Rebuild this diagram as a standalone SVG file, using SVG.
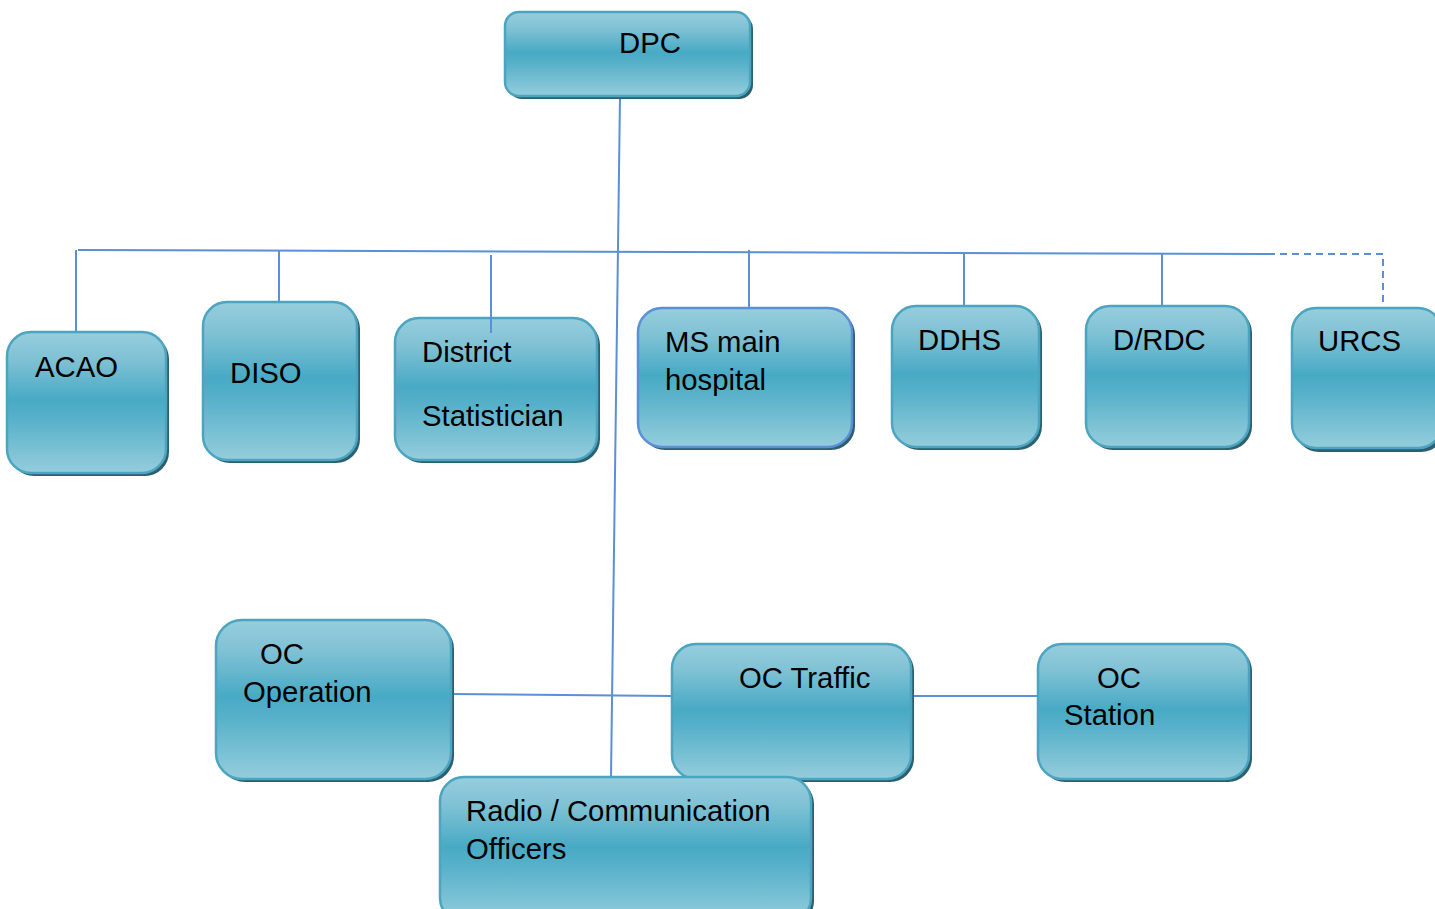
<svg xmlns="http://www.w3.org/2000/svg" width="1435" height="909" viewBox="0 0 1435 909">
<defs>
<linearGradient id="g" x1="0" y1="0" x2="0" y2="1">
<stop offset="0" stop-color="#96cedd"/>
<stop offset="0.2" stop-color="#7fc1d4"/>
<stop offset="0.48" stop-color="#48aac5"/>
<stop offset="0.62" stop-color="#58b1ca"/>
<stop offset="1" stop-color="#95cddc"/>
</linearGradient>
<style>
.sh{fill:#2c5f6f}
.bx{fill:url(#g);stroke:#4ba5c0;stroke-width:2.5}
.ms{stroke:#5b8fd6}
.t{font-family:"Liberation Sans",Arial,sans-serif;font-size:29.3px;fill:#000}
.ln{stroke:#5b8fd6;stroke-width:2;fill:none}
.dash{stroke-dasharray:7,5}
</style>
</defs>
<rect width="1435" height="909" fill="#fff"/>
<g id="connectors">
<path class="ln" d="M620 96 L611 777"/>
<path class="ln" d="M78 250 L1268 254"/>
<path class="ln dash" d="M1268 254 L1383 254 L1383 305"/>
<path class="ln" d="M76 250 L76 332"/>
<path class="ln" d="M279 250 L279 302"/>
<path class="ln" d="M749 250 L749 308"/>
<path class="ln" d="M964 253 L964 306"/>
<path class="ln" d="M1162 254 L1162 306"/>
<path class="ln" d="M451 694 L672 696"/>
<path class="ln" d="M911 696 L1038 696"/>
</g>
<g id="dpc">
<rect class="sh" x="508" y="15" width="245" height="84" rx="14"/>
<rect class="bx" x="505" y="12" width="245" height="84" rx="14"/>
<text class="t" x="619" y="53">DPC</text>
</g>
<g id="acao">
<rect class="sh" x="10" y="335" width="159" height="141" rx="24"/>
<rect class="bx" x="7" y="332" width="159" height="141" rx="24"/>
<text class="t" x="35" y="377">ACAO</text>
</g>
<g id="diso">
<rect class="sh" x="206" y="305" width="154" height="158" rx="24"/>
<rect class="bx" x="203" y="302" width="154" height="158" rx="24"/>
<text class="t" x="230" y="383">DISO</text>
</g>
<g id="district-statistician">
<rect class="sh" x="398" y="321" width="202" height="142" rx="24"/>
<rect class="bx" x="395" y="318" width="202" height="142" rx="24"/>
<text class="t" x="422" y="362">District</text>
<text class="t" x="422" y="426">Statistician</text>
<path class="ln" d="M491 255 L491 333"/>
</g>
<g id="ms-main-hospital">
<rect class="sh" x="641" y="311" width="214" height="139" rx="24"/>
<rect class="bx ms" x="638" y="308" width="214" height="139" rx="24"/>
<text class="t" x="665" y="352">MS main</text>
<text class="t" x="665" y="390">hospital</text>
</g>
<g id="ddhs">
<rect class="sh" x="895" y="309" width="147" height="141" rx="24"/>
<rect class="bx" x="892" y="306" width="147" height="141" rx="24"/>
<text class="t" x="918" y="350">DDHS</text>
</g>
<g id="drdc">
<rect class="sh" x="1089" y="309" width="163" height="141" rx="24"/>
<rect class="bx" x="1086" y="306" width="163" height="141" rx="24"/>
<text class="t" x="1113" y="350">D/RDC</text>
</g>
<g id="urcs">
<rect class="sh" x="1295" y="311" width="150" height="141" rx="24"/>
<rect class="bx" x="1292" y="308" width="150" height="140" rx="24"/>
<text class="t" x="1318" y="351">URCS</text>
</g>
<g id="oc-operation">
<rect class="sh" x="219" y="623" width="235" height="159" rx="26"/>
<rect class="bx" x="216" y="620" width="235" height="159" rx="26"/>
<text class="t" x="260" y="664">OC</text>
<text class="t" x="243" y="702">Operation</text>
</g>
<g id="oc-traffic">
<rect class="sh" x="675" y="647" width="239" height="135" rx="24"/>
<rect class="bx" x="672" y="644" width="239" height="135" rx="24"/>
<text class="t" x="739" y="688">OC Traffic</text>
</g>
<g id="oc-station">
<rect class="sh" x="1041" y="647" width="211" height="135" rx="24"/>
<rect class="bx" x="1038" y="644" width="211" height="135" rx="24"/>
<text class="t" x="1097" y="688">OC</text>
<text class="t" x="1064" y="725">Station</text>
</g>
<g id="radio-communication-officers">
<rect class="sh" x="443" y="780" width="371" height="145" rx="24"/>
<rect class="bx" x="440" y="777" width="371" height="145" rx="24"/>
<text class="t" x="466" y="821">Radio / Communication</text>
<text class="t" x="466" y="859">Officers</text>
</g>
</svg>
